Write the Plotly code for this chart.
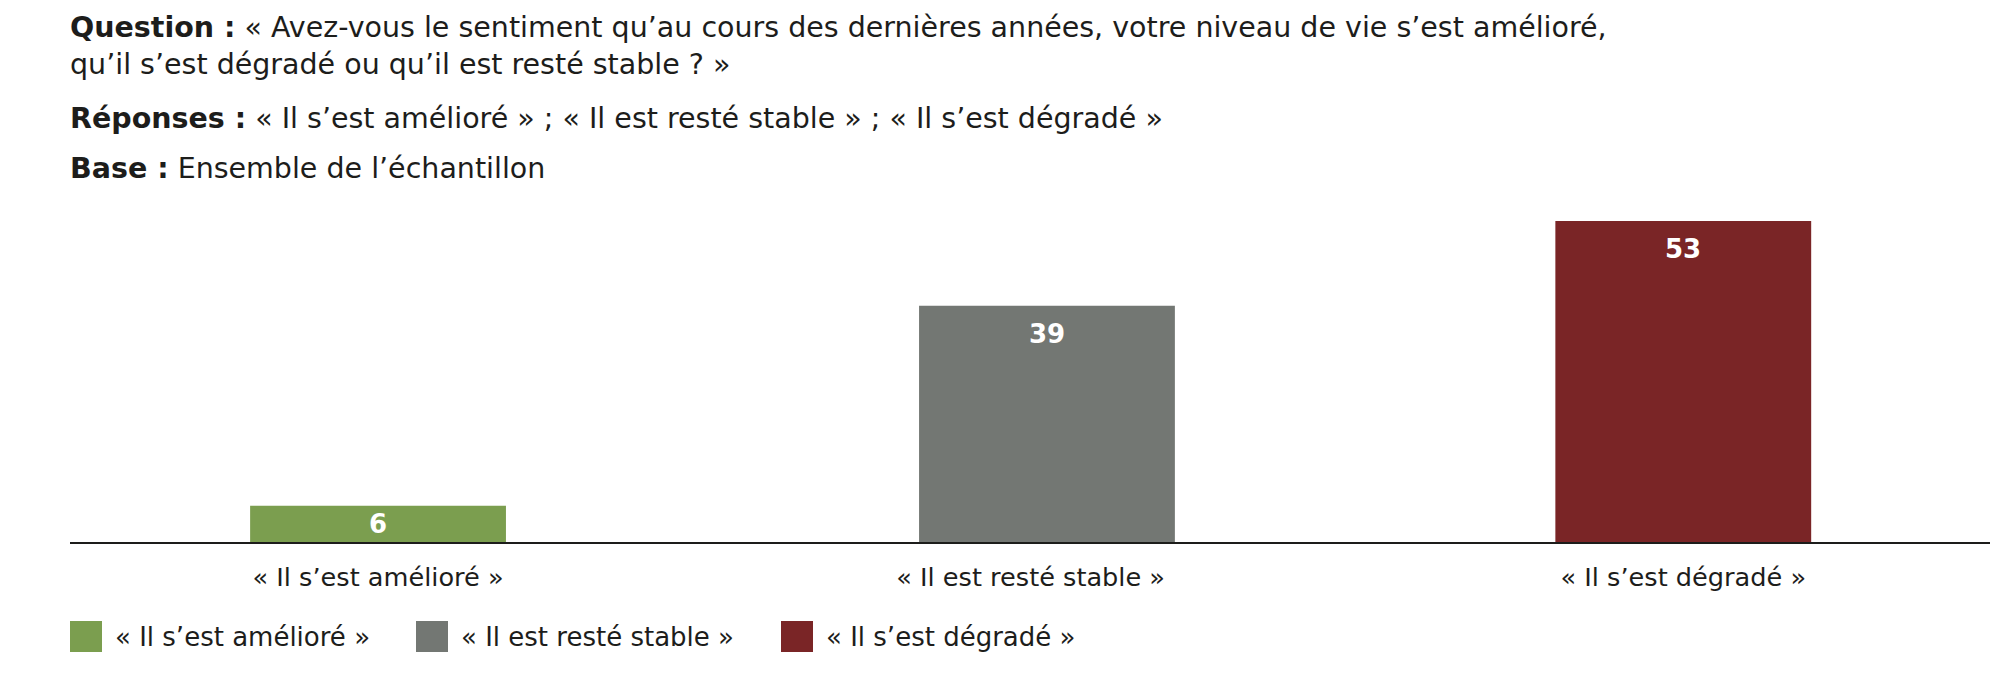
import plotly.graph_objects as go

categories = ["« Il s’est amélioré »", "« Il est resté stable »", "« Il s’est dégradé »"]
values = [6, 39, 53]
colors = ["#7B9E4F", "#737773", "#7A2526"]

question_line1 = "<b>Question :</b> « Avez-vous le sentiment qu’au cours des dernières années, votre niveau de vie s’est amélioré,"
question_line2 = "qu’il s’est dégradé ou qu’il est resté stable ? »"
reponses_line = "<b>Réponses :</b> « Il s’est amélioré » ; « Il est resté stable » ; « Il s’est dégradé »"
base_line = "<b>Base :</b> Ensemble de l’échantillon"

FONT = "DejaVu Sans"
TXT = "#1d1d1b"

# The page body has an 8px margin: the figure is sized/offset to compensate.
OFF = 8
W, H = 2010 - OFF, 680 - OFF
ml, mr, mt, mb = 70 - OFF, 20, 200 - OFF, 138
plot_h = H - mt - mb
plot_w = W - ml - mr
Y_MAX = 56.46
px_per_unit = plot_h / Y_MAX

BAR_W = 0.392
bar_offsets = [-BAR_W / 2, -BAR_W / 2 + 0.025, -BAR_W / 2]

fig = go.Figure()
for cat, val, col, off in zip(categories, values, colors, bar_offsets):
    fig.add_trace(go.Bar(
        x=[cat], y=[val], name=cat,
        marker=dict(color=col, line=dict(width=0)),
        width=BAR_W, offset=off,
        hoverinfo="skip", showlegend=False,
    ))
    # value label, inside the top of the bar
    fig.add_annotation(
        x=cat, y=val, xref="x", yref="y",
        text=f"<b>{val}</b>", showarrow=False,
        xshift=(off + BAR_W / 2) * plot_w / 2.942,
        yanchor="middle", yshift=-min(28, val * px_per_unit / 2),
        font=dict(family=FONT, size=26, color="white"),
    )

fig.update_layout(
    width=W, height=H,
    margin=dict(l=ml, r=mr, t=mt, b=mb),
    paper_bgcolor="white", plot_bgcolor="white",
    barmode="overlay",
    font=dict(family=FONT, size=25, color=TXT),
    showlegend=False,
    xaxis=dict(
        type="category", categoryorder="array", categoryarray=categories,
        range=[-0.472, 2.47],
        showline=True, linecolor=TXT, linewidth=2,
        showgrid=False, zeroline=False,
        ticks="", ticklabelstandoff=11,
        tickfont=dict(family=FONT, size=25.6, color=TXT),
    ),
    yaxis=dict(range=[0, Y_MAX], visible=False, showgrid=False, zeroline=False),
)

def py(ypix):
    """viewport pixel y -> paper y"""
    return 1 + (mt + OFF - ypix) / plot_h

def px(xpix):
    return (xpix - OFF - ml) / plot_w

lines = [(question_line1, 28), (question_line2, 64), (reponses_line, 119), (base_line, 168)]
for txt, ypix in lines:
    fig.add_annotation(
        text=txt, xref="paper", yref="paper",
        x=px(68), xanchor="left",
        y=py(ypix), yanchor="middle",
        showarrow=False, align="left",
        font=dict(family=FONT, size=28.5, color=TXT),
    )

# legend: coloured keys + labels
legend_key_x = [70, 416, 781]
legend_y = 636
for cat, col, kx in zip(categories, colors, legend_key_x):
    fig.add_annotation(
        text="", xref="paper", yref="paper",
        x=px(kx), xanchor="left", y=py(legend_y), yanchor="middle",
        width=32, height=31, bgcolor=col, borderpad=0, borderwidth=0,
        showarrow=False,
    )
    fig.add_annotation(
        text=cat, xref="paper", yref="paper",
        x=px(kx + 43), xanchor="left", y=py(legend_y + 1), yanchor="middle",
        showarrow=False, font=dict(family=FONT, size=26, color=TXT),
    )

fig.write_html("out.html")
